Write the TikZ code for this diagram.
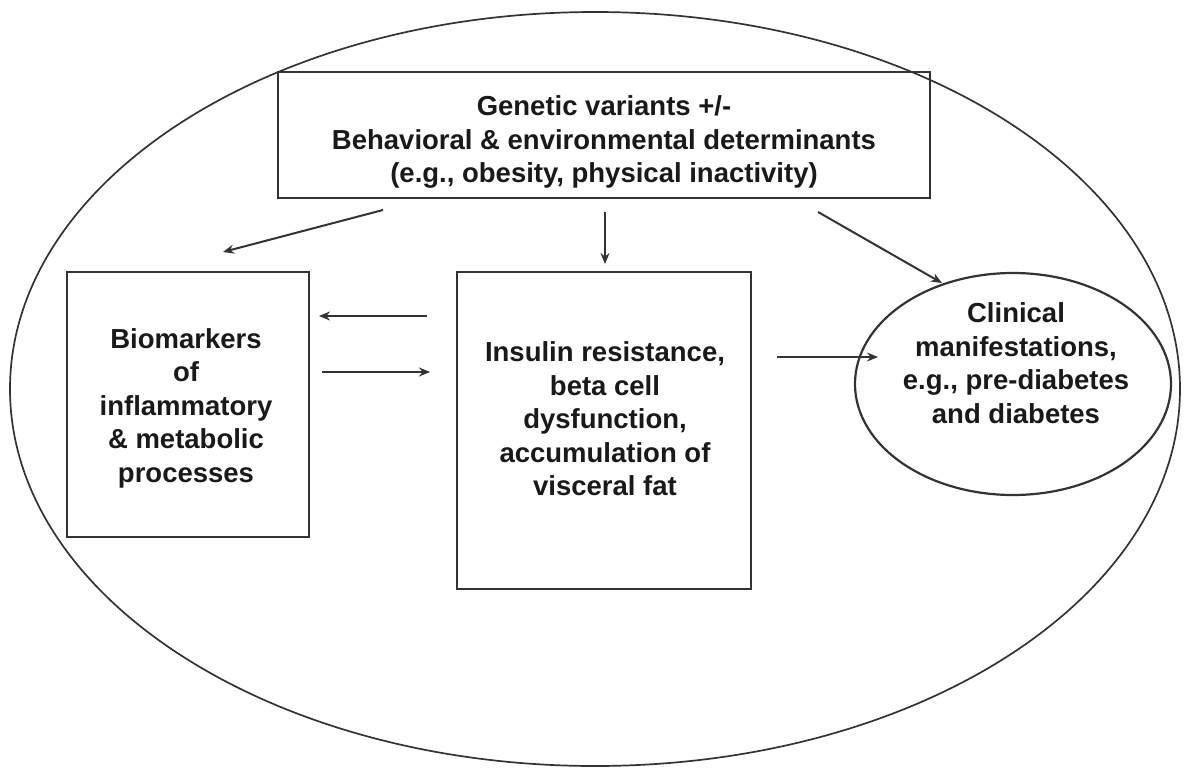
\documentclass[tikz,border=0pt]{standalone}
\usepackage{fontspec}
\setmainfont{Liberation Sans}
\usetikzlibrary{arrows.meta,shapes.geometric}
\tikzset{
    box/.style={draw=black!80, line width=2.2pt, rectangle, inner sep=0pt},
    txt/.style={align=center, font=\fontsize{27.5}{33.5}\selectfont\bfseries, text=black!90, inner sep=0pt},
    arr/.style={draw=black!80, line width=2pt, -{Stealth[length=11pt,width=9pt]}}
}
\begin{document}
\begin{tikzpicture}[x=1pt,y=-1pt]
    \useasboundingbox (0,0) rectangle (1184,769);
    %%outer_ellipse
    \draw[black!80, line width=1.7pt] (595,389) ellipse [x radius=585, y radius=377];
    %%boxes
    \node[box, minimum width=652, minimum height=126] (genetic) at (604,135) {};
    \node[box, minimum width=242, minimum height=265] (biomarkers) at (188,404.5) {};
    \node[box, minimum width=294, minimum height=317] (insulin) at (604,430.5) {};
    \node[ellipse, draw=black!80, line width=2.2pt, minimum width=316, minimum height=222, inner sep=0pt] (clinical) at (1013,384) {};
    %%texts
    \node[txt] (genetictxt) at (604,142) {Genetic variants +/-\\Behavioral \& environmental determinants\\(e.g., obesity, physical inactivity)};
    \node[txt] (biomarkerstxt) at (186,408) {Biomarkers\\of\\inflammatory\\\& metabolic\\processes};
    \node[txt] (insulintxt) at (605,419) {Insulin resistance,\\beta cell\\dysfunction,\\accumulation of\\visceral fat};
    \node[txt] (clinicaltxt) at (1016,363) {Clinical\\manifestations,\\e.g., pre-diabetes\\and diabetes};
    %%arrow_ends
    \coordinate (gl) at (383,210);
    \coordinate (bl) at (223,252);
    \coordinate (gm) at (605,212);
    \coordinate (im) at (605,264);
    \coordinate (gr) at (818,212);
    \coordinate (cr) at (942,283);
    \coordinate (it) at (427,316);
    \coordinate (bt) at (319,316);
    \coordinate (bb) at (322,372);
    \coordinate (ib) at (430,372);
    \coordinate (ir) at (777,357);
    \coordinate (cl) at (878,357);
    %%arrows
    \draw[arr] (gl) -- (bl);
    \draw[arr] (gm) -- (im);
    \draw[arr] (gr) -- (cr);
    \draw[arr] (it) -- (bt);
    \draw[arr] (bb) -- (ib);
    \draw[arr] (ir) -- (cl);
\end{tikzpicture}
\end{document}
